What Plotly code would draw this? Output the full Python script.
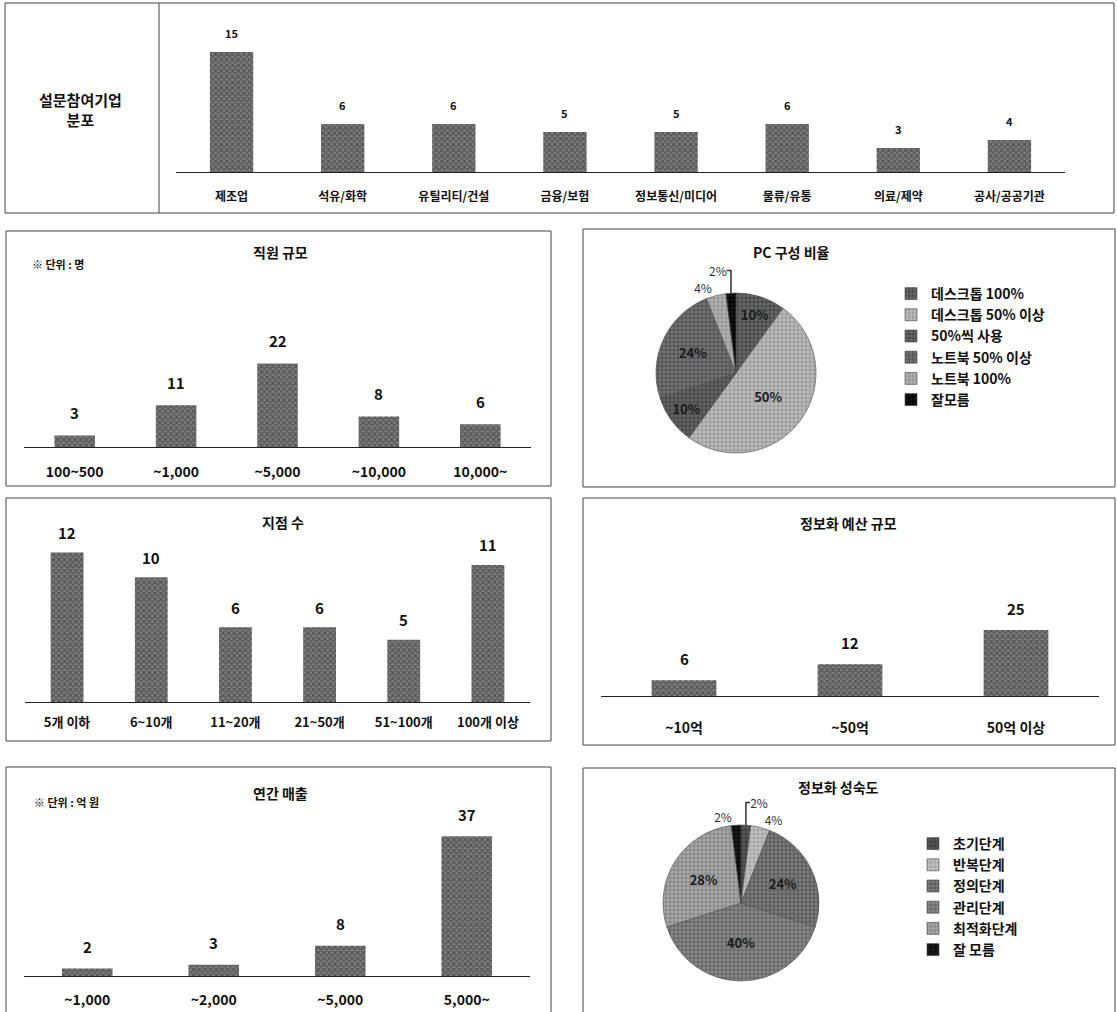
import plotly.graph_objects as go

W, H = 1117, 1012
def fx(p): return p / W
def fy(p): return 1 - p / H

FONT = "Noto Sans CJK KR"

# ---------------- data ----------------
ind_cats = ['제조업', '석유/화학', '유틸리티/건설', '금융/보험', '정보통신/미디어', '물류/유통', '의료/제약', '공사/공공기관']
ind_vals = [15, 6, 6, 5, 5, 6, 3, 4]

emp_cats = ['100~500', '~1,000', '~5,000', '~10,000', '10,000~']
emp_vals = [3, 11, 22, 8, 6]

br_cats = ['5개 이하', '6~10개', '11~20개', '21~50개', '51~100개', '100개 이상']
br_vals = [12, 10, 6, 6, 5, 11]

rev_cats = ['~1,000', '~2,000', '~5,000', '5,000~']
rev_vals = [2, 3, 8, 37]

bud_cats = ['~10억', '~50억', '50억 이상']
bud_vals = [6, 12, 25]

pc_labels = ['데스크톱 100%', '데스크톱 50% 이상', '50%씩 사용', '노트북 50% 이상', '노트북 100%', '잘모름']
pc_vals = [10, 50, 10, 24, 4, 2]

mat_labels = ['초기단계', '반복단계', '정의단계', '관리단계', '최적화단계', '잘 모름']
mat_vals = [2, 4, 24, 40, 28, 2]

# ---------------- figure ----------------
fig = go.Figure()

bar_style = dict(
    marker=dict(color='#6a6a6a', line=dict(width=0),
                pattern=dict(shape='x', fgcolor='#262626', bgcolor='#7e7e7e', size=4, solidity=0.5)),
    hoverinfo='skip', showlegend=False,
)

# panel specs: (suffix, cats, vals, x0, x1, ybase, ytop, ymax, bargap, tickfont, valfont, standoff, yshift)
panels = [
    ('',  ind_cats, ind_vals, 176, 1065, 172, 20, 19.0, 0.61, 12, 11, 14, 19),
    ('2', emp_cats, emp_vals, 24, 531, 447, 270, 46.6, 0.60, 14, 15, 12, 23),
    ('3', br_cats,  br_vals,  25, 530, 702, 520, 14.6, 0.61, 13, 15, 8, 20),
    ('4', rev_cats, rev_vals, 24, 530, 976, 800, 46.6, 0.60, 14, 15, 11, 22),
    ('5', bud_cats, bud_vals, 601, 1099, 696, 540, 59.1, 0.61, 14, 15, 19, 22),
]

annotations = []
for suf, cats, vals, x0, x1, yb, yt, ymax, gap, tfs, vfs, so, ysh in panels:
    xa, ya = 'x' + suf, 'y' + suf
    fig.add_trace(go.Bar(x=cats, y=vals, xaxis=xa, yaxis=ya, width=1 - gap, **bar_style))
    fig.update_layout(**{
        'xaxis' + suf: dict(domain=[fx(x0), fx(x1)], anchor=ya, showline=True, linecolor='#222', linewidth=1,
                            ticks='', showgrid=False, zeroline=False, ticklabelstandoff=so,
                            tickfont=dict(family=FONT, size=tfs, color='#111', weight='bold'), fixedrange=True),
        'yaxis' + suf: dict(domain=[fy(yb), fy(yt)], anchor=xa, range=[0, ymax], visible=False,
                            showgrid=False, zeroline=False, fixedrange=True),
    })
    for c, v in zip(cats, vals):
        annotations.append(dict(x=c, y=v, xref=xa, yref=ya, text=str(v), showarrow=False,
                                yanchor='middle', yshift=ysh,
                                font=dict(family=FONT, size=vfs, color='#111', weight='bold')))

# ---------------- pies ----------------
pc_colors = ['#6a6a6a', '#bdbdbd', '#666666', '#747474', '#b3b3b3', '#141414']
pc_fg = ['#3c3c3c', '#8e8e8e', '#3a3a3a', '#444444', '#878787', '#000000']
fig.add_trace(go.Pie(
    labels=pc_labels, values=pc_vals, sort=False, direction='clockwise', rotation=0,
    domain=dict(x=[fx(656), fx(816)], y=[fy(453), fy(293)]),
    marker=dict(colors=pc_colors, line=dict(color='#4a4a4a', width=0.6),
                pattern=dict(shape='+', fgcolor=pc_fg, bgcolor=pc_colors, size=4, solidity=0.35)),
    texttemplate='%{value}%', textposition=['inside', 'inside', 'inside', 'inside', 'outside', 'outside'],
    insidetextorientation='horizontal',
    insidetextfont=dict(family=FONT, size=13, color='#1a1a1a', weight='bold'),
    outsidetextfont=dict(family=FONT, size=12, color='#333'),
    legend='legend', hoverinfo='skip',
))

mat_colors = ['#5a5a5a', '#c4c4c4', '#7c7c7c', '#8a8a8a', '#a9a9a9', '#1c1c1c']
mat_fg = ['#303030', '#959595', '#4c4c4c', '#585858', '#7a7a7a', '#000000']
fig.add_trace(go.Pie(
    labels=mat_labels, values=mat_vals, sort=False, direction='clockwise', rotation=0,
    domain=dict(x=[fx(663), fx(819)], y=[fy(981), fy(825)]),
    marker=dict(colors=mat_colors, line=dict(color='#4a4a4a', width=0.6),
                pattern=dict(shape='+', fgcolor=mat_fg, bgcolor=mat_colors, size=4, solidity=0.35)),
    texttemplate='%{value}%', textposition=['outside', 'outside', 'inside', 'inside', 'inside', 'outside'],
    insidetextorientation='horizontal',
    insidetextfont=dict(family=FONT, size=13, color='#1a1a1a', weight='bold'),
    outsidetextfont=dict(family=FONT, size=12, color='#333'),
    legend='legend2', hoverinfo='skip',
))

# ---------------- frames ----------------
shapes = []
def rect(x0, y0, x1, y1):
    shapes.append(dict(type='rect', xref='paper', yref='paper', x0=fx(x0), x1=fx(x1), y0=fy(y1), y1=fy(y0),
                       line=dict(color='#444', width=1), fillcolor='rgba(0,0,0,0)', layer='below'))
rect(5, 3, 1114, 213)
shapes.append(dict(type='line', xref='paper', yref='paper', x0=fx(159), x1=fx(159), y0=fy(213), y1=fy(3),
                   line=dict(color='#444', width=1)))
rect(6, 231, 551, 486)
rect(6, 498, 551, 741)
rect(6, 767, 551, 1016)
rect(583, 229, 1115, 487)
rect(583, 498, 1115, 745)
rect(583, 768, 1115, 1016)

# ---------------- texts ----------------
def txt(x, y, s, size=14, bold=True, xanchor='center'):
    annotations.append(dict(x=fx(x), y=fy(y), xref='paper', yref='paper', text=s,
                            showarrow=False, xanchor=xanchor, yanchor='middle',
                            font=dict(family=FONT, size=size, color='#111',
                                      weight='bold' if bold else 'normal')))

txt(80, 109, '설문참여기업<br>분포', size=15)
txt(280, 252, '직원 규모', 14)
txt(30, 264, '※ 단위 : 명', 11, xanchor='left')
txt(283, 522, '지점 수', 14)
txt(280, 793, '연간 매출', 14)
txt(32, 802, '※ 단위 : 억 원', 11, xanchor='left')
txt(791, 252, 'PC 구성 비율', 14)
txt(848, 523, '정보화 예산 규모', 14)
txt(838, 787, '정보화 성숙도', 14)

fig.update_layout(
    width=W, height=H, margin=dict(l=0, r=0, t=0, b=0),
    paper_bgcolor='white', plot_bgcolor='white',
    font=dict(family=FONT, color='#111'),
    annotations=annotations, shapes=shapes,
    legend=dict(x=fx(891), y=fy(278), xanchor='left', yanchor='top',
                font=dict(family=FONT, size=14, color='#111', weight='bold'), bgcolor='rgba(0,0,0,0)',
                itemclick=False, itemdoubleclick=False),
    legend2=dict(x=fx(913), y=fy(828), xanchor='left', yanchor='top',
                 font=dict(family=FONT, size=14, color='#111', weight='bold'), bgcolor='rgba(0,0,0,0)',
                 itemclick=False, itemdoubleclick=False),
)

fig.write_html("out.html")
